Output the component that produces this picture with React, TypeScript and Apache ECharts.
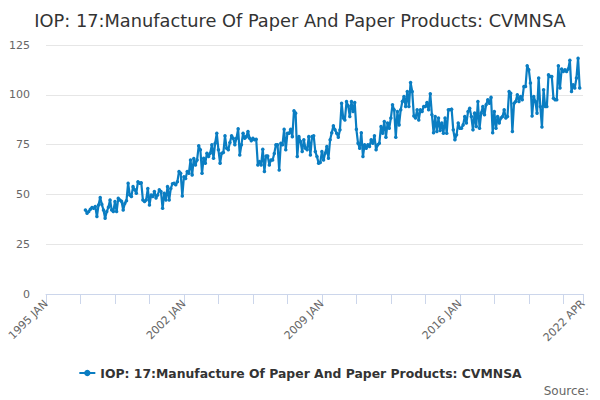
import React, { useEffect, useRef } from 'react';
import * as echarts from 'echarts';

const MONTHS = ['JAN', 'FEB', 'MAR', 'APR', 'MAY', 'JUN', 'JUL', 'AUG', 'SEP', 'OCT', 'NOV', 'DEC'];

// 1995 JAN .. 2022 APR
const categories: string[] = [];
for (let y = 1995; y <= 2022; y++) {
    for (let m = 0; m < 12; m++) {
        if (y === 2022 && m > 3) break;
        categories.push(y + ' ' + MONTHS[m]);
    }
}

// 1997 JAN .. 2007 DEC (approx)
const valuesEarly = [
    42.2, 40.5, 41.4, 42.5, 43.4, 43.0, 43.9, 38.9, 44.7, 48.4, 45.0, 42.2,
    38.0, 41.4, 43.5, 47.2, 42.2, 41.4, 46.4, 41.4, 48.0, 47.2, 46.5, 42.2,
    45.5, 46.8, 55.6, 49.7, 48.9, 53.9, 52.3, 50.6, 56.4, 55.6, 55.9, 47.2,
    46.4, 47.2, 53.0, 44.7, 49.7, 48.9, 51.4, 48.2, 49.7, 52.3, 51.4, 43.0,
    50.6, 47.2, 53.9, 47.2, 53.0, 55.3, 55.6, 54.8, 56.4, 61.5, 60.6, 49.2,
    58.9, 58.0, 61.5, 60.6, 67.3, 59.8, 68.0, 64.8, 67.3, 74.4, 72.4, 60.6,
    68.2, 65.7, 70.7, 69.0, 70.7, 74.9, 68.2, 75.7, 80.7, 72.4, 65.7, 70.7,
    71.0, 79.4, 73.2, 72.4, 76.0, 79.4, 78.2, 74.9, 78.2, 82.9, 69.8, 74.9,
    80.7, 78.2, 79.0, 81.6, 78.2, 77.0, 78.2, 77.4, 77.7, 64.8, 66.5, 64.8,
    72.7, 61.5, 69.3, 69.3, 64.8, 67.3, 67.3, 70.5, 74.9, 74.9, 62.3, 75.7,
    74.9, 82.7, 72.4, 80.7, 80.7, 82.7, 79.0, 92.0, 90.8, 69.0,
];

const valuesLate = [
    79.0, 76.5, 71.5, 77.4, 73.2, 72.4, 79.0, 69.8, 79.0, 79.4,
    71.5, 69.0, 65.7, 66.0, 71.5, 67.3, 70.7, 74.0, 68.2, 77.4,
    81.0, 84.4, 82.4, 80.7, 78.7, 82.4, 95.8, 88.3, 87.4, 96.6,
    94.5, 89.1, 96.6, 91.6, 96.1, 82.7, 75.7, 73.2, 81.0, 69.0,
    74.9, 73.2, 74.9, 74.0, 77.4, 75.7, 79.4, 72.4, 74.9, 75.7,
    84.1, 80.7, 86.6, 78.7, 85.8, 83.2, 88.3, 95.0, 92.5, 78.7,
    91.6, 84.9, 92.5, 96.6, 99.2, 94.1, 101.7, 94.1, 106.2, 101.7,
    89.4, 88.3, 92.5, 87.4, 92.5, 91.6, 94.1, 94.1, 96.1, 92.5,
    100.5, 90.0, 81.0, 89.1, 81.6, 88.3, 82.1, 85.8, 80.7, 88.3,
    80.7, 92.5, 92.5, 92.8, 82.4, 77.4, 79.9, 85.8, 83.2, 83.2,
    84.9, 89.1, 85.8, 91.6, 93.3, 89.1, 82.4, 90.8, 84.1, 96.6,
    83.2, 90.8, 94.1, 90.0, 95.0, 97.5, 95.8, 98.7, 81.0, 91.6,
    83.2, 89.1, 85.8, 88.3, 89.1, 92.5, 88.3, 89.1, 101.7, 100.8,
    81.6, 95.8, 96.6, 100.0, 96.6, 99.2, 97.5, 104.2, 104.2, 114.6,
    112.6, 105.9, 89.4, 99.2, 96.6, 90.8, 108.4, 94.1, 83.8, 102.5,
    94.1, 94.1, 110.0, 109.2, 109.2, 98.3, 97.5, 97.5, 114.6, 103.4,
    112.9, 111.7, 112.6, 111.7, 112.9, 117.3, 101.7, 105.0, 103.4, 108.4,
    118.4, 103.4,
];

const leading: (number | null)[] = new Array(24).fill(null);
const seriesValues: (number | null)[] = leading.concat(valuesEarly, valuesLate);

const yTicks = { min: 0, max: 125, interval: 25 };
const seriesName = 'IOP: 17:Manufacture Of Paper And Paper Products: CVMNSA';

const App: React.FC = () => {
    const chartRef = useRef<HTMLDivElement>(null);

    useEffect(() => {
        document.body.style.margin = '0';
        if (!chartRef.current) return;
        const chart = echarts.init(chartRef.current, undefined, { renderer: 'svg' });
        const last = categories.length - 1;

        chart.setOption({
            animation: false,
            backgroundColor: '#ffffff',
            textStyle: { fontFamily: 'DejaVu Sans' },
            title: {
                text: seriesName,
                left: 'center',
                top: 6,
                textStyle: { color: '#333333', fontSize: 17.8, fontWeight: 'normal', fontFamily: 'DejaVu Sans' },
            },
            grid: { left: 46, right: 17, top: 45, bottom: 106 },
            legend: {
                bottom: 16,
                left: 'center',
                itemWidth: 16,
                itemHeight: 8,
                itemGap: 6,
                textStyle: { color: '#333333', fontSize: 12.4, fontWeight: 'bold', fontFamily: 'DejaVu Sans' },
                data: [seriesName],
            },
            graphic: [
                {
                    type: 'text',
                    right: 11,
                    bottom: 3,
                    style: { text: 'Source:', fill: '#666666', font: '12px DejaVu Sans' },
                },
            ],
            xAxis: {
                type: 'category',
                data: categories,
                boundaryGap: false,
                axisLine: { lineStyle: { color: '#ccd6eb' } },
                axisTick: {
                    length: 10,
                    lineStyle: { color: '#ccd6eb' },
                    interval: (i: number) => i % 21 === 0 || i === last,
                },
                axisLabel: {
                    rotate: 45,
                    color: '#666666',
                    fontSize: 11,
                    margin: 8,
                    interval: (i: number) => i % 84 === 0 || i === last,
                },
                splitLine: { show: false },
            },
            yAxis: {
                type: 'value',
                min: yTicks.min,
                max: yTicks.max,
                interval: yTicks.interval,
                axisLine: { show: false },
                axisTick: { show: false },
                axisLabel: { color: '#666666', fontSize: 11, margin: 16 },
                splitLine: { lineStyle: { color: '#e6e6e6' } },
            },
            series: [
                {
                    name: seriesName,
                    type: 'line',
                    data: seriesValues,
                    connectNulls: false,
                    symbol: 'circle',
                    symbolSize: 3.5,
                    showSymbol: true,
                    showAllSymbol: true,
                    itemStyle: { color: '#0a7dc2' },
                    lineStyle: { color: '#0a7dc2', width: 2.2 },
                },
            ],
        });

        return () => {
            chart.dispose();
        };
    }, []);

    return <div ref={chartRef} style={{ width: '600px', height: '400px' }} />;
};

export default App;
